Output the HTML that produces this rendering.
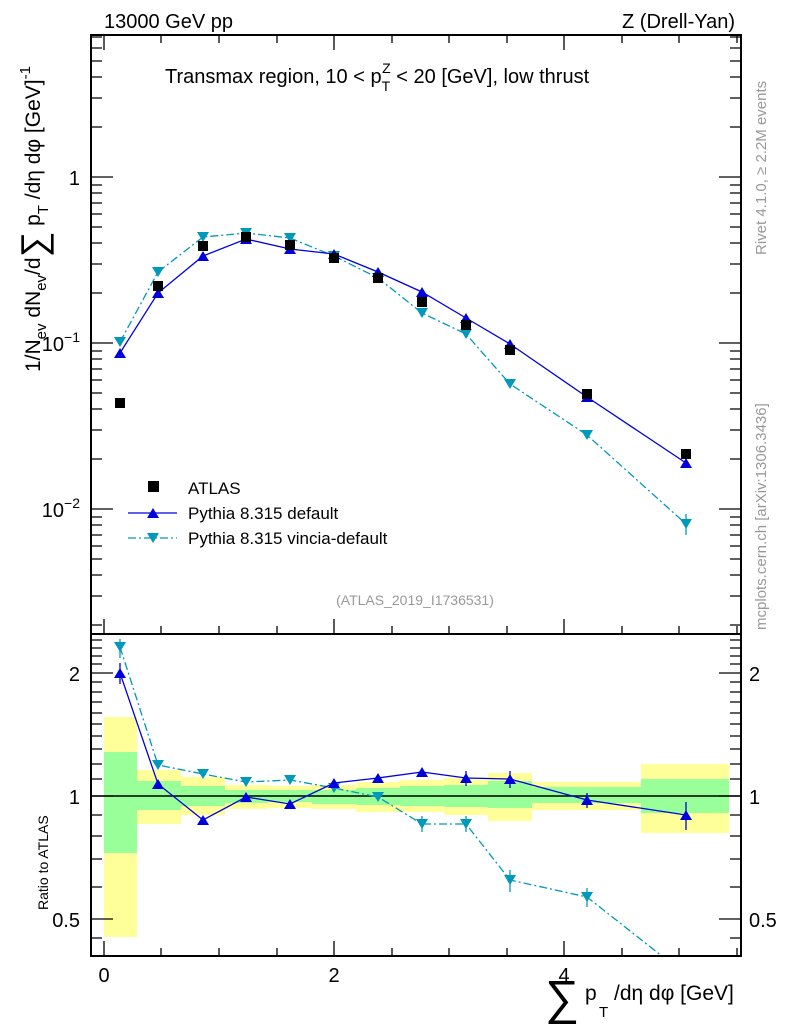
<!DOCTYPE html>
<html><head><meta charset="utf-8"><style>html,body{margin:0;padding:0;background:#fff}svg{display:block}</style></head>
<body>
<svg width="786" height="1024" xmlns="http://www.w3.org/2000/svg" font-family="Liberation Sans, sans-serif">
<rect width="786" height="1024" fill="#fff"/>
<g>
<rect x="104" y="717" width="33" height="220" fill="#ffff99"/>
<rect x="104" y="752" width="33" height="101" fill="#99ff99"/>
<rect x="137" y="770" width="44" height="54" fill="#ffff99"/>
<rect x="137" y="781" width="44" height="29" fill="#99ff99"/>
<rect x="181" y="777" width="44" height="38" fill="#ffff99"/>
<rect x="181" y="786" width="44" height="20" fill="#99ff99"/>
<rect x="225" y="785" width="43" height="24" fill="#ffff99"/>
<rect x="225" y="790" width="43" height="13" fill="#99ff99"/>
<rect x="268" y="786" width="44" height="22" fill="#ffff99"/>
<rect x="268" y="790" width="44" height="12" fill="#99ff99"/>
<rect x="312" y="785" width="44" height="24" fill="#ffff99"/>
<rect x="312" y="790" width="44" height="14" fill="#99ff99"/>
<rect x="356" y="782" width="44" height="30" fill="#ffff99"/>
<rect x="356" y="788" width="44" height="17" fill="#99ff99"/>
<rect x="400" y="780" width="44" height="32" fill="#ffff99"/>
<rect x="400" y="786" width="44" height="20" fill="#99ff99"/>
<rect x="444" y="778" width="44" height="37" fill="#ffff99"/>
<rect x="444" y="785" width="44" height="22" fill="#99ff99"/>
<rect x="488" y="773" width="44" height="48" fill="#ffff99"/>
<rect x="488" y="781" width="44" height="27" fill="#99ff99"/>
<rect x="532" y="782" width="109" height="28" fill="#ffff99"/>
<rect x="532" y="787" width="109" height="16" fill="#99ff99"/>
<rect x="641" y="764" width="88" height="69" fill="#ffff99"/>
<rect x="641" y="779" width="88" height="34" fill="#99ff99"/>
</g>
<line x1="91" y1="796" x2="741" y2="796" stroke="#000" stroke-width="1.5"/>

<g>
<polyline fill="none" stroke="#0099bb" stroke-width="1.3" stroke-dasharray="8,3,2,3" points="120,342 158,272 203,237 246,233 290,238 334,256 378,278 422,313 466,334 510,384 587,435 686,524"/>
<polyline fill="none" stroke="#0000dd" stroke-width="1.3" points="120,353 158,293 203,256 246,239 290,249 334,254 378,272 422,292 466,318 510,344 587,397 686,463"/>
<g fill="#0099bb">
<path d="M114,337h12l-6,10z"/><path d="M152,267h12l-6,10z"/><path d="M197,232h12l-6,10z"/><path d="M240,228h12l-6,10z"/><path d="M284,233h12l-6,10z"/><path d="M328,251h12l-6,10z"/><path d="M372,273h12l-6,10z"/><path d="M416,308h12l-6,10z"/><path d="M460,329h12l-6,10z"/><path d="M504,379h12l-6,10z"/><path d="M581,430h12l-6,10z"/><path d="M680,519h12l-6,10z"/>
</g>
<line x1="686" y1="514" x2="686" y2="535" stroke="#0099bb" stroke-width="1.3"/>
<g fill="#0000dd">
<path d="M114,358h12l-6,-10z"/><path d="M152,298h12l-6,-10z"/><path d="M197,261h12l-6,-10z"/><path d="M240,244h12l-6,-10z"/><path d="M284,254h12l-6,-10z"/><path d="M328,259h12l-6,-10z"/><path d="M372,277h12l-6,-10z"/><path d="M416,297h12l-6,-10z"/><path d="M460,323h12l-6,-10z"/><path d="M504,349h12l-6,-10z"/><path d="M581,402h12l-6,-10z"/><path d="M680,468h12l-6,-10z"/>
</g>
<g fill="#000">
<rect x="115" y="398" width="10" height="10"/><rect x="153" y="281" width="10" height="10"/><rect x="198" y="241" width="10" height="10"/><rect x="241" y="232" width="10" height="10"/><rect x="285" y="240" width="10" height="10"/><rect x="329" y="253" width="10" height="10"/><rect x="373" y="273" width="10" height="10"/><rect x="417" y="297" width="10" height="10"/><rect x="461" y="320" width="10" height="10"/><rect x="505" y="345" width="10" height="10"/><rect x="582" y="389" width="10" height="10"/><rect x="681" y="449" width="10" height="10"/>
</g>
</g>

<g>
<clipPath id="rc"><rect x="91" y="635" width="650" height="321"/></clipPath>
<g clip-path="url(#rc)">
<polyline fill="none" stroke="#0099bb" stroke-width="1.3" stroke-dasharray="8,3,2,3" points="120,647 158,765 203,774 246,782 290,780 334,788 378,797 422,824 466,824 510,880 587,897 686,975"/>
<polyline fill="none" stroke="#0000dd" stroke-width="1.3" points="120,673 158,784 203,820 246,797 290,804 334,783 378,778 422,772 466,778 510,779 587,800 686,815"/>
<g stroke="#0099bb" stroke-width="1.3">
<line x1="120" y1="639" x2="120" y2="658"/><line x1="510" y1="870" x2="510" y2="892"/><line x1="587" y1="888" x2="587" y2="907"/><line x1="422" y1="816" x2="422" y2="832"/><line x1="466" y1="816" x2="466" y2="832"/>
</g>
<g fill="#0099bb">
<path d="M114,642h12l-6,10z"/><path d="M152,760h12l-6,10z"/><path d="M197,769h12l-6,10z"/><path d="M240,777h12l-6,10z"/><path d="M284,775h12l-6,10z"/><path d="M328,783h12l-6,10z"/><path d="M372,792h12l-6,10z"/><path d="M416,819h12l-6,10z"/><path d="M460,819h12l-6,10z"/><path d="M504,875h12l-6,10z"/><path d="M581,892h12l-6,10z"/>
</g>
<g stroke="#0000dd" stroke-width="1.3">
<line x1="120" y1="663" x2="120" y2="684"/><line x1="686" y1="802" x2="686" y2="830"/><line x1="587" y1="793" x2="587" y2="808"/><line x1="510" y1="771" x2="510" y2="788"/><line x1="466" y1="771" x2="466" y2="786"/>
</g>
<g fill="#0000dd">
<path d="M114,678h12l-6,-10z"/><path d="M152,789h12l-6,-10z"/><path d="M197,825h12l-6,-10z"/><path d="M240,802h12l-6,-10z"/><path d="M284,809h12l-6,-10z"/><path d="M328,788h12l-6,-10z"/><path d="M372,783h12l-6,-10z"/><path d="M416,777h12l-6,-10z"/><path d="M460,783h12l-6,-10z"/><path d="M504,784h12l-6,-10z"/><path d="M581,805h12l-6,-10z"/><path d="M680,820h12l-6,-10z"/>
</g>
</g>
</g>

<rect x="91" y="35" width="650" height="599" fill="none" stroke="#000" stroke-width="2"/>
<rect x="91" y="634" width="650" height="322" fill="none" stroke="#000" stroke-width="2"/>

<g stroke="#000" stroke-width="1.3">
<path d="M91,177h22M741,177h-22M91,343h22M741,343h-22M91,509h22M741,509h-22"/>
<path d="M91,127h11M91,98h11M91,77h11M91,61h11M91,48h11M91,37h11M91,293h11M91,264h11M91,243h11M91,227h11M91,214h11M91,203h11M91,193h11M91,185h11M91,459h11M91,430h11M91,409h11M91,393h11M91,380h11M91,369h11M91,359h11M91,351h11M91,625h11M91,596h11M91,575h11M91,559h11M91,546h11M91,535h11M91,525h11M91,517h11"/>
<path d="M741,127h-11M741,98h-11M741,77h-11M741,61h-11M741,48h-11M741,37h-11M741,293h-11M741,264h-11M741,243h-11M741,227h-11M741,214h-11M741,203h-11M741,193h-11M741,185h-11M741,459h-11M741,430h-11M741,409h-11M741,393h-11M741,380h-11M741,369h-11M741,359h-11M741,351h-11M741,625h-11M741,596h-11M741,575h-11M741,559h-11M741,546h-11M741,535h-11M741,525h-11M741,517h-11"/>
<path d="M104,634v-15M334,634v-15M564,634v-15M104,35v15M334,35v15M564,35v15"/>
<path d="M161,634v-8M219,634v-8M277,634v-8M392,634v-8M449,634v-8M507,634v-8M622,634v-8M679,634v-8M737,634v-8M161,35v8M219,35v8M277,35v8M392,35v8M449,35v8M507,35v8M622,35v8M679,35v8M737,35v8"/>
<path d="M104,956v-15M334,956v-15M564,956v-15M161,956v-8M219,956v-8M277,956v-8M392,956v-8M449,956v-8M507,956v-8M622,956v-8M679,956v-8M737,956v-8"/>
<path d="M91,673h22M91,796h22M91,919h22M741,673h-22M741,796h-22M741,919h-22"/>
<path d="M91,887h11M91,859h11M91,836h11M91,815h11M91,779h11M91,764h11M91,749h11M91,736h11M91,724h11M91,713h11M91,702h11M91,692h11M91,682h11M91,664h11M91,656h11M91,648h11M91,640h11M91,938h11"/>
<path d="M741,887h-11M741,859h-11M741,836h-11M741,815h-11M741,779h-11M741,764h-11M741,749h-11M741,736h-11M741,724h-11M741,713h-11M741,702h-11M741,692h-11M741,682h-11M741,664h-11M741,656h-11M741,648h-11M741,640h-11M741,938h-11"/>
</g>

<g font-size="20" fill="#000">
<text x="80" y="185" text-anchor="end">1</text>
<text x="80" y="351" text-anchor="end">10<tspan dy="-9" font-size="14">−1</tspan></text>
<text x="80" y="517" text-anchor="end">10<tspan dy="-9" font-size="14">−2</tspan></text>
<text x="80" y="681" text-anchor="end">2</text>
<text x="80" y="804" text-anchor="end">1</text>
<text x="80" y="927" text-anchor="end">0.5</text>
<text x="749" y="681">2</text>
<text x="749" y="804">1</text>
<text x="749" y="927">0.5</text>
<text x="104" y="982" text-anchor="middle">0</text>
<text x="334" y="982" text-anchor="middle">2</text>
<text x="564" y="982" text-anchor="middle">4</text>
</g>

<text x="104" y="28" font-size="20">13000 GeV pp</text>
<text x="735" y="28" font-size="20" text-anchor="end">Z (Drell-Yan)</text>
<text x="165" y="83" font-size="20">Transmax region, 10 &lt; p<tspan dy="8" font-size="14">T</tspan><tspan dy="-18" dx="-8" font-size="14">Z</tspan><tspan dy="10"> &lt; 20 [GeV], low thrust</tspan></text>
<text x="415" y="605" font-size="14" fill="#999" text-anchor="middle">(ATLAS_2019_I1736531)</text>

<rect x="148" y="481" width="11" height="11" fill="#000"/>
<text x="188" y="494" font-size="17">ATLAS</text>
<line x1="128" y1="513" x2="177" y2="513" stroke="#0000dd" stroke-width="1.3"/>
<path d="M147,518h12l-6,-10z" fill="#0000dd"/>
<text x="188" y="519" font-size="17">Pythia 8.315 default</text>
<line x1="128" y1="538" x2="177" y2="538" stroke="#0099bb" stroke-width="1.3" stroke-dasharray="8,3,2,3"/>
<path d="M147,533h12l-6,10z" fill="#0099bb"/>
<text x="188" y="544" font-size="17">Pythia 8.315 vincia-default</text>

<text transform="translate(40,372) rotate(-90)" font-size="21">1/N<tspan dy="6" font-size="15">ev</tspan><tspan dy="-6"> dN</tspan><tspan dy="6" font-size="15">ev</tspan><tspan dy="-6">/d</tspan><tspan font-size="36" dy="6">∑</tspan><tspan dy="-6"> p</tspan><tspan dy="8" font-size="15">T</tspan><tspan dy="-8"> /dη dφ  [GeV]</tspan><tspan dy="-10" font-size="15">-1</tspan></text>
<text transform="translate(48,910) rotate(-90)" font-size="14">Ratio to ATLAS</text>
<text x="545" y="1014" font-size="48">∑</text>
<text x="585" y="1000" font-size="21">p</text>
<text x="599" y="1017" font-size="15">T</text>
<text x="614" y="1000" font-size="21">/dη dφ [GeV]</text>
<text transform="translate(766,255) rotate(-90)" font-size="15" fill="#999">Rivet 4.1.0, ≥ 2.2M events</text>
<text transform="translate(766,630) rotate(-90)" font-size="15" fill="#999">mcplots.cern.ch [arXiv:1306.3436]</text>
</svg>
</body></html>
